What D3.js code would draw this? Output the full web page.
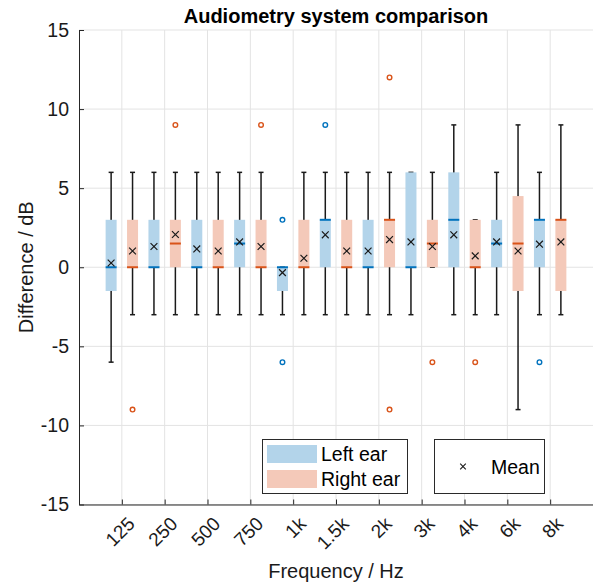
<!DOCTYPE html>
<html>
<head>
<meta charset="utf-8">
<script src="https://cdn.jsdelivr.net/npm/d3@7"></script>
<style>
  html, body { margin: 0; padding: 0; background: #fff; }
  svg { display: block; font-family: "Liberation Sans", Arial, sans-serif; }
</style>
</head>
<body>
<svg id="chart" width="593" height="583"></svg>
<script>
// Frequencies tested
const categories = ["125", "250", "500", "750", "1k", "1.5k", "2k", "3k", "4k", "6k", "8k"];

// Left ear: whisker ends, quartiles, median, mean, outliers (dB)
const leftLow    = [-6, -3, -3, -3, -3, -3, -3, -3, -3, -3, -3];
const leftQ1     = [-1.5, 0, 0, 0, -1.5, 0, 0, 0, 0, 0, 0];
const leftMedian = [0, 0, 0, 1.5, 0, 3, 0, 0, 3, 1.5, 3];
const leftQ3     = [3, 3, 3, 3, 0, 3, 3, 6, 6, 3, 3];
const leftHigh   = [6, 6, 6, 6, 0, 6, 6, 6, 9, 6, 6];
const leftMean   = [0.27, 1.31, 1.16, 1.6, -0.34, 2.05, 1.03, 1.6, 2.05, 1.6, 1.46];
const leftOutliers = [[], [], [], [], [3, -6], [9], [], [], [], [], [-6]];

// Right ear
const rightLow    = [-3, -3, -3, -3, -3, -3, -3, 0, -3, -9, -3];
const rightQ1     = [0, 0, 0, 0, 0, 0, 0, 0, 0, -1.5, -1.5];
const rightMedian = [0, 1.5, 0, 0, 0, 0, 3, 1.5, 0, 1.5, 3];
const rightQ3     = [3, 3, 3, 3, 3, 3, 3, 3, 3, 4.5, 3];
const rightHigh   = [6, 6, 6, 6, 6, 6, 6, 6, 3, 9, 9];
const rightMean   = [1.03, 2.07, 1.03, 1.31, 0.57, 1.03, 1.75, 1.31, 0.72, 1.03, 1.6];
const rightOutliers = [[-9], [9], [], [9], [], [], [12, -9], [-6], [-6], [], []];

const yTicks = [-15, -10, -5, 0, 5, 10, 15];

const blue = "#0072BD", orange = "#D95319";
const blueFill = "#b3d4ea", orangeFill = "#f4c9b9";
const axisColor = "#262626";
const fontSize = 19.5;

const svg = d3.select("#chart");
const margin = { left: 79, right: 0, top: 30, bottom: 79 };
const W = 593, H = 583;

const x = d3.scaleLinear().domain([0, 12]).range([margin.left, W - margin.right]);
const y = d3.scaleLinear().domain([-15, 15]).range([H - margin.bottom + 0.5, margin.top]);

// grid
const grid = svg.append("g").attr("stroke", "#e3e3e3").attr("stroke-width", 1);
categories.forEach((c, i) => {
  grid.append("line").attr("x1", x(i + 1)).attr("x2", x(i + 1))
    .attr("y1", y(-15)).attr("y2", y(15));
});
yTicks.forEach(t => {
  grid.append("line").attr("x1", x(0)).attr("x2", x(12))
    .attr("y1", y(t)).attr("y2", y(t));
});

// box plots
const boxW = 11, capW = 5;
function drawSeries(offset, low, q1, med, q3, high, mean, outl, fill, stroke) {
  const g = svg.append("g");
  categories.forEach((c, i) => {
    const cx = x(i + 1 + offset);
    // whiskers
    g.append("line").attr("x1", cx).attr("x2", cx)
      .attr("y1", y(low[i])).attr("y2", y(high[i]))
      .attr("stroke", "#1a1a1a").attr("stroke-width", 1.5);
    [low[i], high[i]].forEach(v => {
      g.append("line").attr("x1", cx - capW / 2).attr("x2", cx + capW / 2)
        .attr("y1", y(v)).attr("y2", y(v))
        .attr("stroke", "#1a1a1a").attr("stroke-width", 1.5);
    });
    // box
    g.append("rect").attr("x", cx - boxW / 2).attr("width", boxW)
      .attr("y", y(q3[i])).attr("height", Math.max(0.5, y(q1[i]) - y(q3[i])))
      .attr("fill", fill);
    // median
    g.append("line").attr("x1", cx - boxW / 2).attr("x2", cx + boxW / 2)
      .attr("y1", y(med[i])).attr("y2", y(med[i]))
      .attr("stroke", stroke).attr("stroke-width", 2);
    // outliers
    outl[i].forEach(v => {
      g.append("circle").attr("cx", cx).attr("cy", y(v)).attr("r", 2.3)
        .attr("fill", "none").attr("stroke", stroke).attr("stroke-width", 1.4);
    });
    // mean
    const m = y(mean[i]), s = 3.4;
    g.append("path").attr("d", `M${cx - s},${m - s}L${cx + s},${m + s}M${cx - s},${m + s}L${cx + s},${m - s}`)
      .attr("stroke", "#1a1a1a").attr("stroke-width", 1.2).attr("fill", "none");
  });
}
drawSeries(-0.25, leftLow, leftQ1, leftMedian, leftQ3, leftHigh, leftMean, leftOutliers, blueFill, blue);
drawSeries(0.25, rightLow, rightQ1, rightMedian, rightQ3, rightHigh, rightMean, rightOutliers, orangeFill, orange);

// axes
const yAxis = svg.append("g").attr("transform", `translate(${x(0)},0)`)
  .call(d3.axisLeft(y).tickValues(yTicks).tickSizeInner(-5).tickSizeOuter(0).tickPadding(10)
    .tickFormat(d => String(d)));
yAxis.select(".domain").attr("stroke", axisColor);
yAxis.selectAll(".tick line").attr("stroke", axisColor);
yAxis.selectAll("text").attr("font-size", fontSize).attr("fill", "#1a1a1a")
  .attr("font-family", "Liberation Sans, Arial, sans-serif");

const xAxis = svg.append("g").attr("transform", `translate(0,${y(-15)})`)
  .call(d3.axisBottom(x).tickValues(d3.range(1, 12)).tickSizeInner(-5).tickSizeOuter(0)
    .tickFormat(d => categories[d - 1]));
xAxis.select(".domain").attr("stroke", axisColor);
xAxis.selectAll(".tick line").attr("stroke", axisColor);
xAxis.selectAll("text")
  .attr("font-size", 19).attr("fill", "#1a1a1a")
  .attr("font-family", "Liberation Sans, Arial, sans-serif")
  .attr("text-anchor", "end").attr("y", 0).attr("dy", "0.71em")
  .attr("transform", "translate(4,11) rotate(-45)");

// titles
svg.append("text").attr("x", 336).attr("y", 23).attr("text-anchor", "middle")
  .attr("font-size", 20).attr("font-weight", "bold").attr("fill", "#000")
  .text("Audiometry system comparison");
svg.append("text").attr("x", 336).attr("y", 578).attr("text-anchor", "middle")
  .attr("font-size", 20).attr("fill", "#1a1a1a").text("Frequency / Hz");
svg.append("text").attr("transform", `translate(33,${y(0)}) rotate(-90)`).attr("text-anchor", "middle")
  .attr("font-size", 20).attr("fill", "#1a1a1a").text("Difference / dB");

// legend: ears
const lg = svg.append("g");
lg.append("rect").attr("x", 262.5).attr("y", 439.5).attr("width", 145).attr("height", 54)
  .attr("fill", "#fff").attr("stroke", "#2a2a2a").attr("stroke-width", 1);
[["Left ear", blueFill, 445], ["Right ear", orangeFill, 470]].forEach(([label, fill, top]) => {
  lg.append("rect").attr("x", 267).attr("y", top).attr("width", 50).attr("height", 18).attr("fill", fill);
  lg.append("text").attr("x", 321).attr("y", top + 16).attr("font-size", fontSize).attr("fill", "#000").text(label);
});

// legend: mean marker
const lm = svg.append("g");
lm.append("rect").attr("x", 434.5).attr("y", 439.5).attr("width", 110).attr("height", 54)
  .attr("fill", "#fff").attr("stroke", "#2a2a2a").attr("stroke-width", 1);
const mx = 463, my = 466.5, ms = 2.8;
lm.append("path").attr("d", `M${mx - ms},${my - ms}L${mx + ms},${my + ms}M${mx - ms},${my + ms}L${mx + ms},${my - ms}`)
  .attr("stroke", "#1a1a1a").attr("stroke-width", 1.1);
lm.append("text").attr("x", 491).attr("y", 473.5).attr("font-size", fontSize).attr("fill", "#000").text("Mean");
</script>
</body>
</html>
